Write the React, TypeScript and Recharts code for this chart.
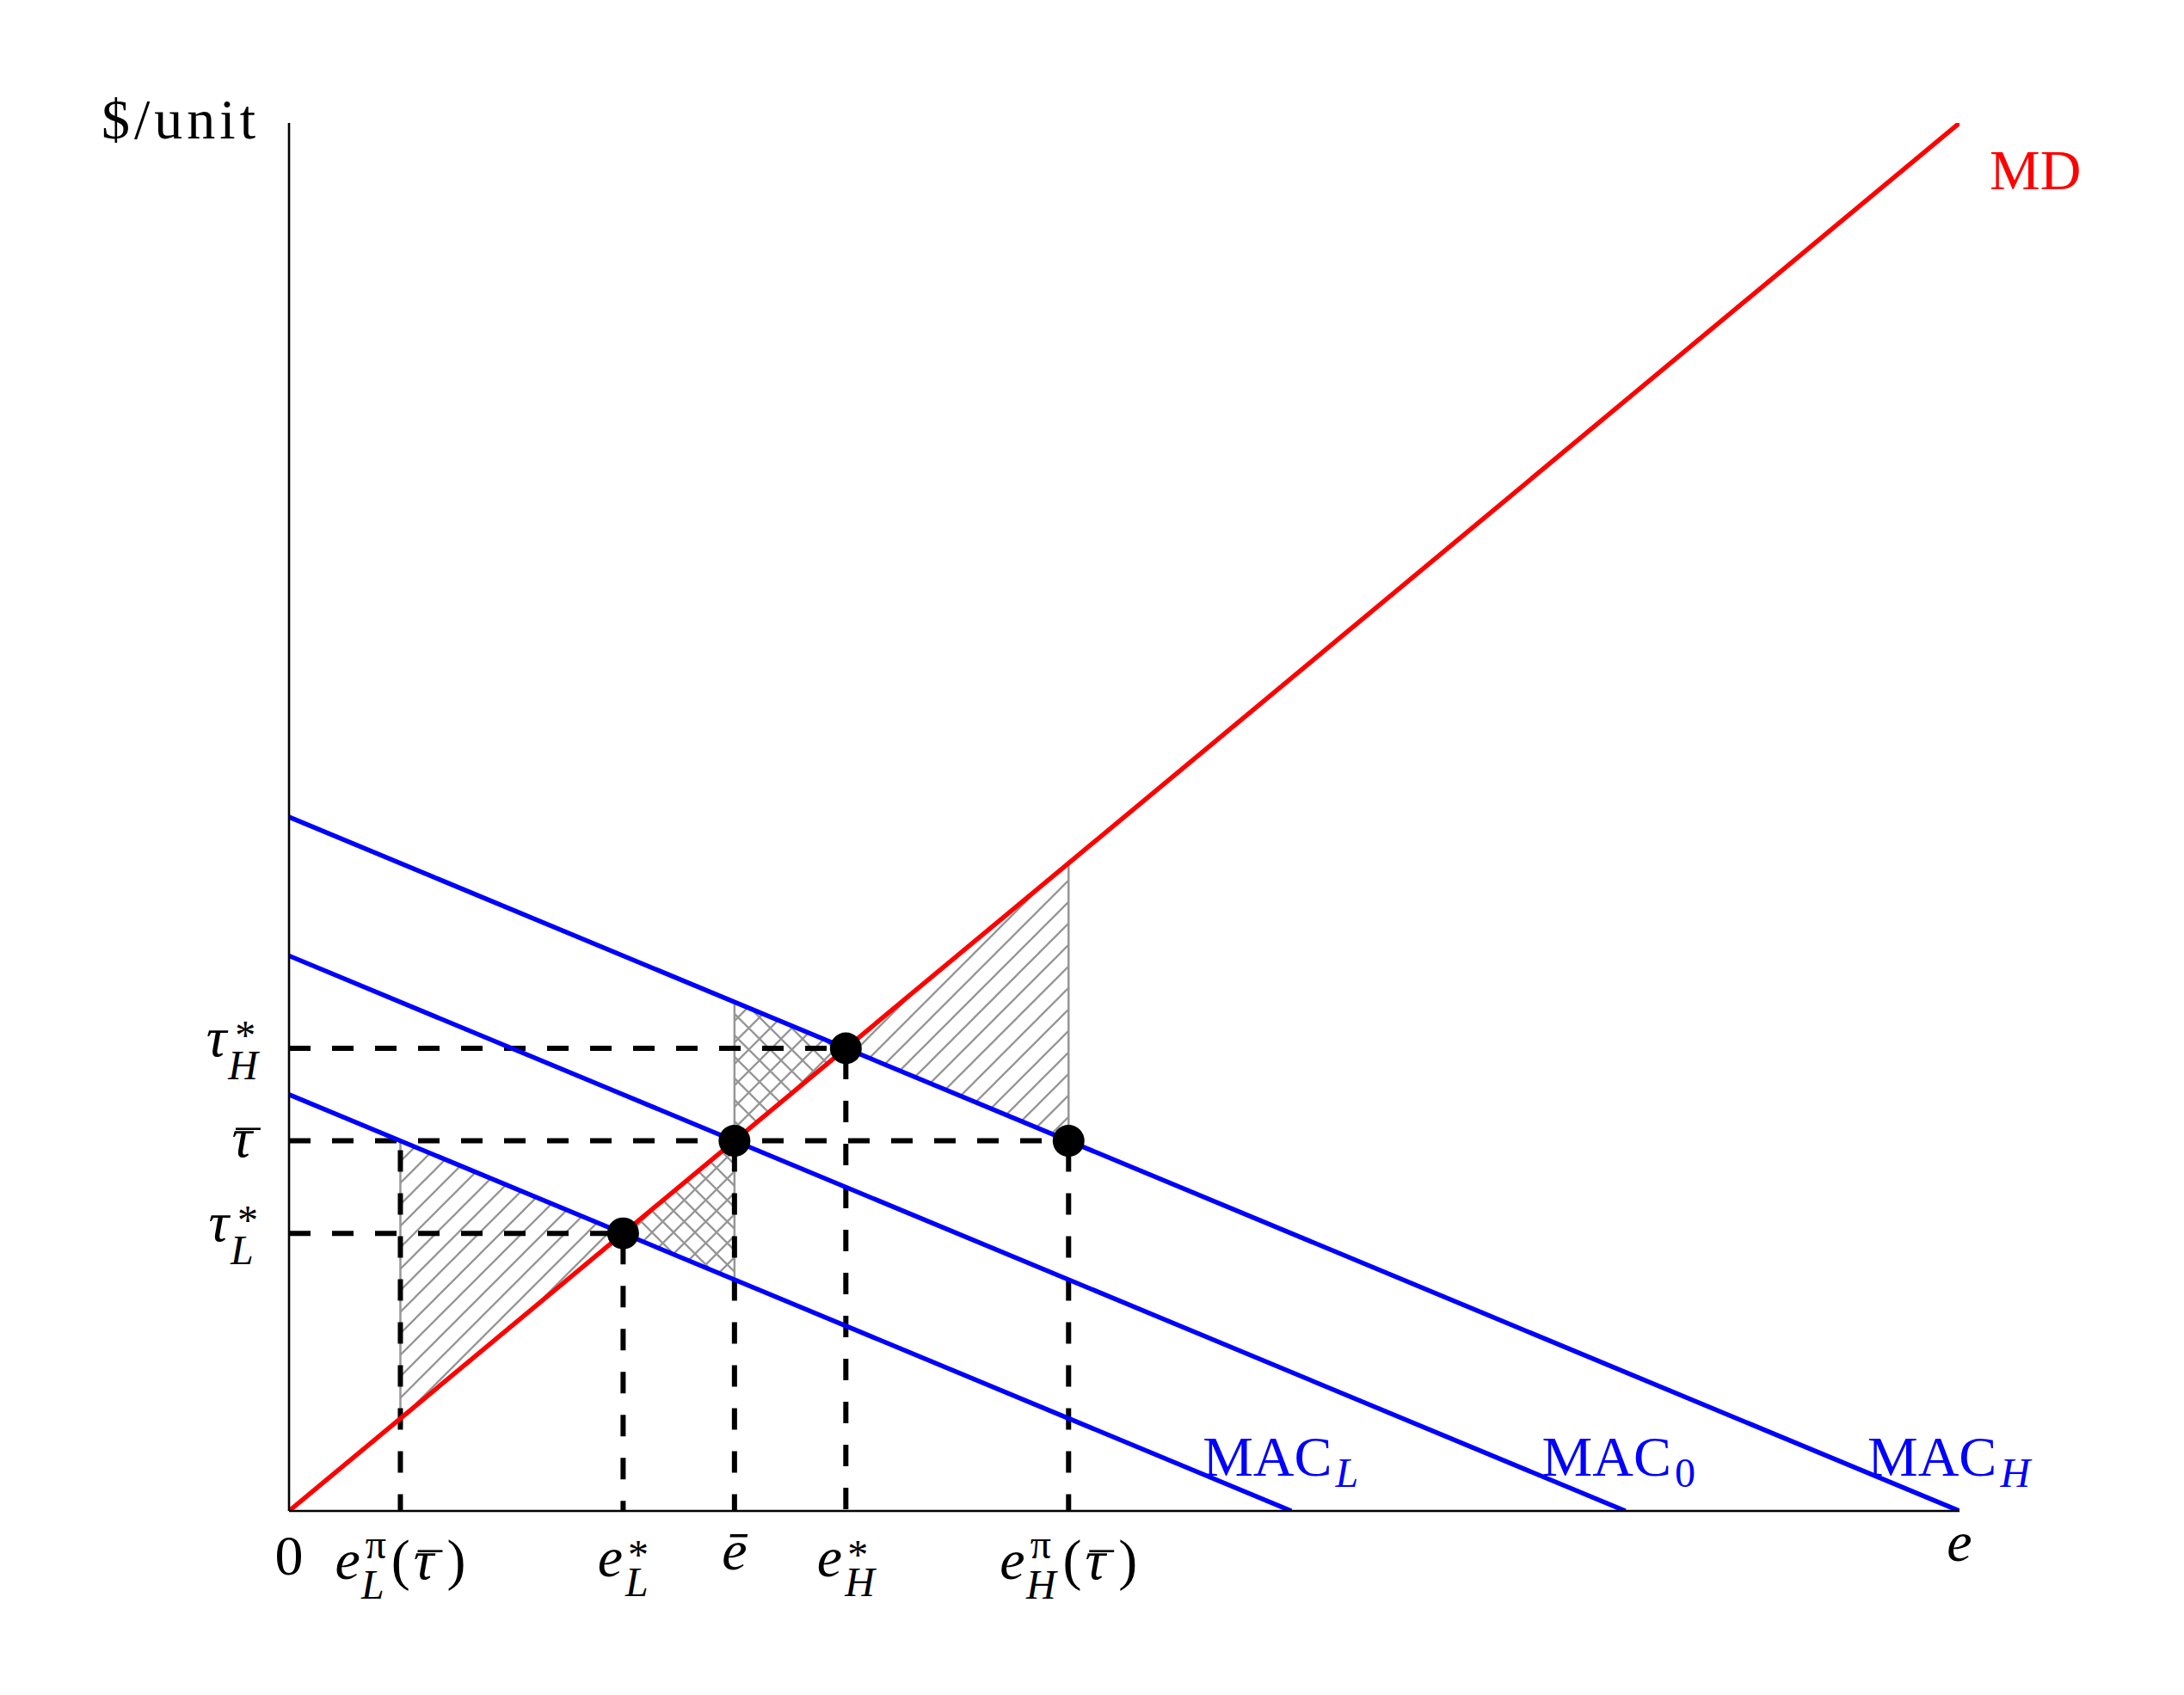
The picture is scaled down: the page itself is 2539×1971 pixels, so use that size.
import React from 'react';
import {
  ComposedChart,
  XAxis,
  YAxis,
  Line,
  Area,
  Scatter,
  ReferenceDot,
} from 'recharts';

// ---------- data ----------
const xDomain: [number, number] = [0, 15];
const yDomain: [number, number] = [0, 15];

// marginal damage and marginal abatement cost curves (endpoints)
const mdCurve = [
  { e: 0, p: 0 },
  { e: 15, p: 15 },
];
const macLCurve = [
  { e: 0, p: 4.5 },
  { e: 9, p: 0 },
];
const mac0Curve = [
  { e: 0, p: 6 },
  { e: 12, p: 0 },
];
const macHCurve = [
  { e: 0, p: 7.5 },
  { e: 15, p: 0 },
];

// hatched regions (ranges [low, high])
const hatchL = [
  { e: 1, band: [1, 4] },
  { e: 3, band: [3, 3] },
];
const crossL = [
  { e: 3, band: [3, 3] },
  { e: 4, band: [2.5, 4] },
];
const crossH = [
  { e: 4, band: [4, 5.5] },
  { e: 5, band: [5, 5] },
];
const hatchH = [
  { e: 5, band: [5, 5] },
  { e: 7, band: [4, 7] },
];

// vertical borders of the hatched regions
const edge1 = [
  { e: 1, p: 1 },
  { e: 1, p: 4 },
];
const edge4 = [
  { e: 4, p: 2.5 },
  { e: 4, p: 5.5 },
];
const edge7 = [
  { e: 7, p: 4 },
  { e: 7, p: 7 },
];

// dashed guides
const guideTauH = [
  { e: 0, p: 5 },
  { e: 5, p: 5 },
];
const guideTauBar = [
  { e: 0, p: 4 },
  { e: 7, p: 4 },
];
const guideTauL = [
  { e: 0, p: 3 },
  { e: 3, p: 3 },
];
const guideEL = [
  { e: 1, p: 4 },
  { e: 1, p: 0 },
];
const guideELstar = [
  { e: 3, p: 3 },
  { e: 3, p: 0 },
];
const guideEbar = [
  { e: 4, p: 4 },
  { e: 4, p: 0 },
];
const guideEHstar = [
  { e: 5, p: 5 },
  { e: 5, p: 0 },
];
const guideEH = [
  { e: 7, p: 4 },
  { e: 7, p: 0 },
];

// equilibrium points
const points = [
  { e: 3, p: 3 },
  { e: 4, p: 4 },
  { e: 5, p: 5 },
  { e: 7, p: 4 },
];

// tick labels
const xTickValues = [0, 1, 3, 4, 5, 7, 15];
const xTickLabels = [
  { base: '0', upright: true },
  { base: 'e', sup: 'π', sub: 'L', tail: true },
  { base: 'e', sup: '*', sub: 'L' },
  { base: 'ē' },
  { base: 'e', sup: '*', sub: 'H' },
  { base: 'e', sup: 'π', sub: 'H', tail: true },
  { base: 'e' },
];
const yTickValues = [3, 4, 5];
const yTickLabels = [
  { base: 'τ', sup: '*', sub: 'L' },
  { base: 'τ', bar: true },
  { base: 'τ', sup: '*', sub: 'H' },
];

const yAxisTitle = '$/unit';
const mdLabel = 'MD';
const macLabels = [
  { name: 'MAC', sub: 'L', subItalic: true },
  { name: 'MAC', sub: '0', subItalic: false },
  { name: 'MAC', sub: 'H', subItalic: true },
];

// ---------- styling ----------
const FONT = "'Liberation Serif', 'Times New Roman', serif";
const FS = 66;
const SFS = 48;
const BAR_FS = 56;
const RED = '#ff0000';
const BLUE = '#0000ff';
const HATCH = '#969696';
const CURVE_W = 5.4;

const W = 2523;
const H = 1955;

function supRaise(s: string) {
  return s === '*' ? 9 : 24;
}
function supWidth(s: string) {
  return s === '*' ? 24 : 26;
}

function XTick(props: any) {
  const { x, y, payload } = props;
  const i = xTickValues.indexOf(payload.value);
  const lab: any = xTickLabels[i];
  if (!lab) return null;
  let base = 58;
  if (lab.tail) base = 79;
  else if (lab.sup) base = 76;
  else if (lab.base === '0') base = 74;
  else if (lab.base === 'ē') base = 68;
  const subDrop = 23;
  const gap = 6;
  return (
    <g>
      <text
        x={x}
        y={y + base}
        textAnchor="middle"
        fontFamily={FONT}
        fontSize={FS}
        fill="#000"
      >
        <tspan fontStyle={lab.upright ? 'normal' : 'italic'}>{lab.base}</tspan>
        {lab.sup && (
          <tspan fontSize={SFS} dx={gap} dy={-supRaise(lab.sup)}>
            {lab.sup}
          </tspan>
        )}
        {lab.sub && (
          <tspan
            fontSize={SFS}
            fontStyle="italic"
            dx={-supWidth(lab.sup) - 3}
            dy={supRaise(lab.sup) + subDrop}
          >
            {lab.sub}
          </tspan>
        )}
        {lab.tail && (
          <tspan dx={8} dy={-subDrop}>
            (
          </tspan>
        )}
        {lab.tail && (
          <tspan dx={4} fontStyle="italic">
            τ
          </tspan>
        )}
        {lab.tail && (
          <tspan dx={-23} dy={10} fontSize={BAR_FS} fontStyle="italic">
            ¯
          </tspan>
        )}
        {lab.tail && (
          <tspan dx={10} dy={-10}>
            )
          </tspan>
        )}
      </text>
    </g>
  );
}

function YTick(props: any) {
  const { x, y, payload } = props;
  const i = yTickValues.indexOf(payload.value);
  const lab: any = yTickLabels[i];
  if (!lab) return null;
  const base = lab.sup ? 9 : 18;
  const raise = 8;
  const drop = 27;
  if (lab.bar) {
    return (
      <g>
        <text
          x={x - 38}
          y={y + base}
          textAnchor="end"
          fontFamily={FONT}
          fontSize={FS}
          fill="#000"
        >
          <tspan fontStyle="italic">τ</tspan>
          <tspan fontStyle="italic" fontSize={BAR_FS} dx={-23} dy={10}>
            ¯
          </tspan>
        </text>
      </g>
    );
  }
  return (
    <g>
      <text
        x={x - 36}
        y={y + base}
        textAnchor="end"
        fontFamily={FONT}
        fontSize={FS}
        fill="#000"
      >
        <tspan fontStyle="italic">{lab.base}</tspan>
        {lab.sup && (
          <tspan fontSize={SFS} dx={10} dy={-raise}>
            {lab.sup}
          </tspan>
        )}
        {lab.sub && (
          <tspan fontSize={SFS} fontStyle="italic" dx={-32} dy={raise + drop}>
            {lab.sub}
          </tspan>
        )}
      </text>
    </g>
  );
}

const macOffsets = [-103, -97, -107];

function MacLabel(idx: number) {
  return (p: any) => {
    const lab = macLabels[idx];
    return (
      <text
        x={p.cx + macOffsets[idx]}
        y={p.cy - 41}
        fontFamily={FONT}
        fontSize={FS}
        fill={BLUE}
      >
        {lab.name}
        <tspan
          fontSize={SFS}
          dy={13}
          dx={4}
          fontStyle={lab.subItalic ? 'italic' : 'normal'}
        >
          {lab.sub}
        </tspan>
      </text>
    );
  };
}

const lineCommon = {
  dot: false,
  activeDot: false,
  isAnimationActive: false,
  type: 'linear' as const,
  dataKey: 'p',
  legendType: 'none' as const,
};

const areaCommon = {
  dataKey: 'band',
  type: 'linear' as const,
  fillOpacity: 1,
  stroke: HATCH,
  strokeWidth: 2.5,
  isAnimationActive: false,
  dot: false,
  activeDot: false,
};

export default function App() {
  return (
    <div style={{ width: W, height: H, background: '#fff' }}>
      <ComposedChart
        width={W}
        height={H}
        margin={{ top: 135, right: 253, left: 0, bottom: 0 }}
      >
        <defs>
          <pattern
            id="hatch"
            patternUnits="userSpaceOnUse"
            width={25}
            height={25}
          >
            <path
              d="M0,25 L25,0 M-6.25,6.25 L6.25,-6.25 M18.75,31.25 L31.25,18.75"
              stroke={HATCH}
              strokeWidth={2.3}
            />
          </pattern>
          <pattern
            id="cross"
            patternUnits="userSpaceOnUse"
            width={25}
            height={25}
          >
            <path
              d="M0,25 L25,0 M-6.25,6.25 L6.25,-6.25 M18.75,31.25 L31.25,18.75 M0,0 L25,25 M-6.25,18.75 L6.25,31.25 M18.75,-6.25 L31.25,6.25"
              stroke={HATCH}
              strokeWidth={2.3}
            />
          </pattern>
        </defs>
        <XAxis
          type="number"
          dataKey="e"
          domain={xDomain}
          allowDataOverflow
          ticks={xTickValues}
          interval={0}
          tick={<XTick />}
          tickLine={false}
          tickSize={0}
          tickMargin={0}
          height={206}
          axisLine={{ stroke: '#000', strokeWidth: 2.6 }}
        />
        <YAxis
          type="number"
          dataKey="p"
          domain={yDomain}
          allowDataOverflow
          ticks={yTickValues}
          interval={0}
          tick={<YTick />}
          tickLine={false}
          tickSize={0}
          tickMargin={0}
          width={328}
          axisLine={{ stroke: '#000', strokeWidth: 2.6 }}
        />

        <Area {...areaCommon} data={hatchL} fill="url(#hatch)" />
        <Area {...areaCommon} data={crossL} fill="url(#cross)" />
        <Area {...areaCommon} data={crossH} fill="url(#cross)" />
        <Area {...areaCommon} data={hatchH} fill="url(#hatch)" />

        <Line {...lineCommon} data={edge1} stroke={HATCH} strokeWidth={2.5} />
        <Line {...lineCommon} data={edge4} stroke={HATCH} strokeWidth={2.5} />
        <Line {...lineCommon} data={edge7} stroke={HATCH} strokeWidth={2.5} />

        {[guideTauH, guideTauBar, guideTauL].map((d, k) => (
          <Line
            key={'h' + k}
            {...lineCommon}
            data={d}
            stroke="#000"
            strokeWidth={6}
            strokeDasharray="25 25"
          />
        ))}
        {[guideEL, guideELstar, guideEbar, guideEHstar, guideEH].map((d, k) => (
          <Line
            key={'v' + k}
            {...lineCommon}
            data={d}
            stroke="#000"
            strokeWidth={6}
            strokeDasharray="25 25"
            strokeDashoffset={-11}
          />
        ))}

        <Line {...lineCommon} data={macLCurve} stroke={BLUE} strokeWidth={CURVE_W} />
        <Line {...lineCommon} data={mac0Curve} stroke={BLUE} strokeWidth={CURVE_W} />
        <Line {...lineCommon} data={macHCurve} stroke={BLUE} strokeWidth={CURVE_W} />
        <Line {...lineCommon} data={mdCurve} stroke={RED} strokeWidth={CURVE_W} />

        <Scatter
          data={points}
          dataKey="p"
          fill="#000"
          isAnimationActive={false}
          shape={(p: any) => <circle cx={p.cx} cy={p.cy} r={18.5} fill="#000" />}
        />

        <ReferenceDot
          x={macLCurve[1].e}
          y={macLCurve[1].p}
          r={0}
          shape={MacLabel(0)}
        />
        <ReferenceDot
          x={mac0Curve[1].e}
          y={mac0Curve[1].p}
          r={0}
          shape={MacLabel(1)}
        />
        <ReferenceDot
          x={macHCurve[1].e}
          y={macHCurve[1].p}
          r={0}
          shape={MacLabel(2)}
        />
        <ReferenceDot
          x={mdCurve[1].e}
          y={mdCurve[1].p}
          r={0}
          shape={(p: any) => (
            <text
              x={p.cx + 35}
              y={p.cy + 77}
              fontFamily={FONT}
              fontSize={FS}
              fill={RED}
            >
              {mdLabel}
            </text>
          )}
        />
        <ReferenceDot
          x={0}
          y={yDomain[1]}
          r={0}
          shape={(p: any) => (
            <text
              x={p.cx - 34}
              y={p.cy + 18}
              textAnchor="end"
              fontFamily={FONT}
              fontSize={FS}
              letterSpacing={5}
              fill="#000"
            >
              {yAxisTitle}
            </text>
          )}
        />
      </ComposedChart>
    </div>
  );
}
